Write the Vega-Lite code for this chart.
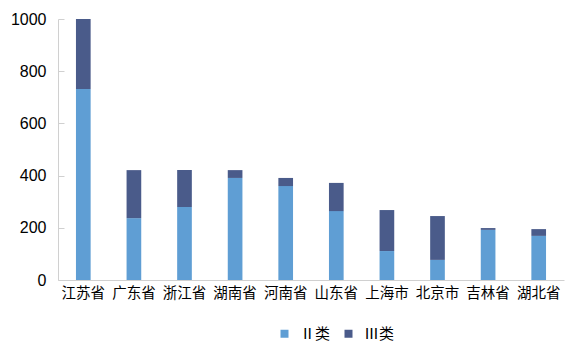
{
  "$schema": "https://vega.github.io/schema/vega-lite/v6.json",
  "autosize": "none",
  "width": 506,
  "height": 261,
  "padding": {"left": 58, "top": 19, "right": 19, "bottom": 82},
  "background": "#ffffff",
  "data": {
    "values": [
      {"省份": "江苏省", "类别": "Ⅱ类", "数量": 732},
      {"省份": "江苏省", "类别": "Ⅲ类", "数量": 268},
      {"省份": "广东省", "类别": "Ⅱ类", "数量": 237},
      {"省份": "广东省", "类别": "Ⅲ类", "数量": 184},
      {"省份": "浙江省", "类别": "Ⅱ类", "数量": 280},
      {"省份": "浙江省", "类别": "Ⅲ类", "数量": 141},
      {"省份": "湖南省", "类别": "Ⅱ类", "数量": 391},
      {"省份": "湖南省", "类别": "Ⅲ类", "数量": 30},
      {"省份": "河南省", "类别": "Ⅱ类", "数量": 360},
      {"省份": "河南省", "类别": "Ⅲ类", "数量": 31},
      {"省份": "山东省", "类别": "Ⅱ类", "数量": 264},
      {"省份": "山东省", "类别": "Ⅲ类", "数量": 108},
      {"省份": "上海市", "类别": "Ⅱ类", "数量": 111},
      {"省份": "上海市", "类别": "Ⅲ类", "数量": 157},
      {"省份": "北京市", "类别": "Ⅱ类", "数量": 77},
      {"省份": "北京市", "类别": "Ⅲ类", "数量": 168},
      {"省份": "吉林省", "类别": "Ⅱ类", "数量": 192},
      {"省份": "吉林省", "类别": "Ⅲ类", "数量": 7},
      {"省份": "湖北省", "类别": "Ⅱ类", "数量": 169},
      {"省份": "湖北省", "类别": "Ⅲ类", "数量": 26}
    ]
  },
  "mark": {"type": "bar"},
  "encoding": {
    "x": {
      "field": "省份",
      "type": "nominal",
      "sort": null,
      "scale": {"paddingInner": 0.71, "paddingOuter": 0.355},
      "axis": {
        "title": null,
        "labelAngle": 0,
        "ticks": false,
        "domainColor": "#D0D0D0",
        "labelFont": "Noto Sans CJK SC",
        "labelFontSize": 14.5,
        "labelColor": "#000000",
        "labelPadding": 6
      }
    },
    "y": {
      "field": "数量",
      "type": "quantitative",
      "stack": "zero",
      "scale": {"domain": [0, 1000]},
      "axis": {
        "title": null,
        "values": [0, 200, 400, 600, 800, 1000],
        "format": "d",
        "grid": false,
        "tickSize": -6,
        "tickColor": "#D0D0D0",
        "domainColor": "#D0D0D0",
        "labelFont": "Liberation Sans",
        "labelFontSize": 16,
        "labelColor": "#000000",
        "labelPadding": 18
      }
    },
    "color": {
      "field": "类别",
      "type": "nominal",
      "scale": {"domain": ["Ⅱ类", "Ⅲ类"], "range": ["#5F9ED4", "#4A5B8A"]},
      "legend": {
        "title": null,
        "orient": "none",
        "direction": "horizontal",
        "legendX": 219,
        "legendY": 307,
        "symbolType": "square",
        "symbolSize": 64,
        "symbolStrokeWidth": 0,
        "symbolOpacity": 1,
        "labelFont": "Noto Sans CJK SC",
        "labelFontSize": 15,
        "labelColor": "#000000",
        "labelOffset": 8,
        "columnPadding": 10
      }
    },
    "order": {"field": "类别", "sort": "ascending"}
  },
  "config": {"view": {"stroke": null}}
}
